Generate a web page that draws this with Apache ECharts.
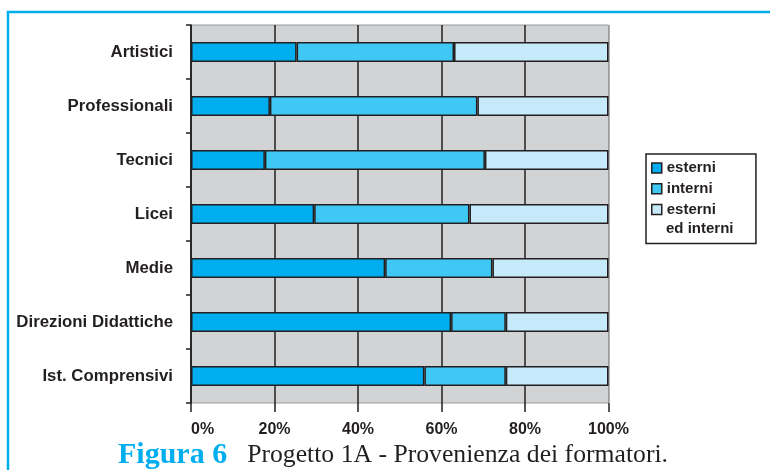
<!DOCTYPE html>
<html><head><meta charset="utf-8">
<script src="https://cdn.jsdelivr.net/npm/echarts@6/dist/echarts.min.js"></script>
<style>html,body{margin:0;padding:0;background:#fff}#c{width:770px;height:470px}</style>
</head><body><div id="c"></div>
<script>
var categories = ['Artistici','Professionali','Tecnici','Licei','Medie','Direzioni Didattiche','Ist. Comprensivi'];
var esterni = [25.3, 18.9, 17.7, 29.5, 46.5, 62.3, 55.9];
var interni = [37.7, 49.7, 52.7, 37.2, 25.7, 13.1, 19.5];
var entrambi = [37.0, 31.4, 29.6, 33.3, 27.8, 24.6, 24.6];
var seriesNames = ['esterni','interni','esterni ed interni'];
var legendLabels = ['esterni','interni','esterni'];
var legendExtra = 'ed interni';
var xTicks = ['0%','20%','40%','60%','80%','100%'];

var dark = '#231F20';
var colors = ['#00AEEF','#40C8F4','#C6EAF9'];
var sans = 'Liberation Sans, Arial, sans-serif';
var serif = 'Liberation Serif, Times New Roman, serif';
var chart = echarts.init(document.getElementById('c'));
function mk(name, data, color){
  return {name:name, type:'bar', stack:'s', data:data, barWidth:20,
    itemStyle:{color:color, borderColor:dark, borderWidth:1.5}};
}
chart.setOption({
  animation:false,
  backgroundColor:'#fff',
  color:colors,
  grid:{left:191, top:25, width:417.5, height:378, show:true, backgroundColor:'#D1D3D4', borderColor:'#9a9a9a', borderWidth:1},
  xAxis:{type:'value', min:0, max:100, interval:20,
    axisLine:{show:false},
    axisTick:{show:true, length:9, lineStyle:{color:dark, width:1.5}},
    splitLine:{show:true, lineStyle:{color:[dark,dark,dark,dark,dark,'#9a9a9a'], width:1.5}},
    axisLabel:{margin:19, color:dark, fontFamily:sans, fontWeight:'bold', fontSize:16,
      alignMinLabel:'left',
      formatter:function(v){return xTicks[Math.round(v/20)];}}
  },
  yAxis:{type:'category', inverse:true, data:categories,
    axisLine:{show:true, lineStyle:{color:dark, width:1.5}},
    axisTick:{show:true, length:5, lineStyle:{color:dark, width:1.5}},
    splitLine:{show:false},
    axisLabel:{margin:18, color:dark, fontFamily:sans, fontWeight:'bold', fontSize:16.8}
  },
  legend:{orient:'vertical', left:646, top:154, padding:[6,40,26,5], itemGap:4.7, z:5,
    borderColor:dark, borderWidth:1.5, backgroundColor:'#fff',
    itemWidth:10, itemHeight:10, icon:'rect',
    itemStyle:{borderColor:dark, borderWidth:1.5},
    textStyle:{color:dark, fontFamily:sans, fontWeight:'bold', fontSize:15, lineHeight:16},
    data:seriesNames,
    formatter:function(n){return legendLabels[seriesNames.indexOf(n)];}
  },
  title:{left:118, top:440, padding:0,
    text:'{a|Figura 6}{b|Progetto 1A - Provenienza dei formatori.}',
    textStyle:{rich:{
      a:{fontFamily:serif, fontWeight:'bold', fontSize:30, color:'#00AEEF'},
      b:{fontFamily:serif, fontWeight:'normal', fontSize:25.7, color:dark, padding:[0,0,0,20]}
    }}
  },
  graphic:[
    {type:'rect', z:1, shape:{x:8, y:12, width:800, height:500}, style:{fill:null, stroke:'#00AEEF', lineWidth:2.5}, silent:true},
    {type:'text', z:100, zlevel:0, left:666, top:221, style:{text:legendExtra, fill:dark, font:'bold 15px '+sans}, silent:true}
  ],
  series:[mk(seriesNames[0], esterni, colors[0]), mk(seriesNames[1], interni, colors[1]), mk(seriesNames[2], entrambi, colors[2])]
});
</script></body></html>
